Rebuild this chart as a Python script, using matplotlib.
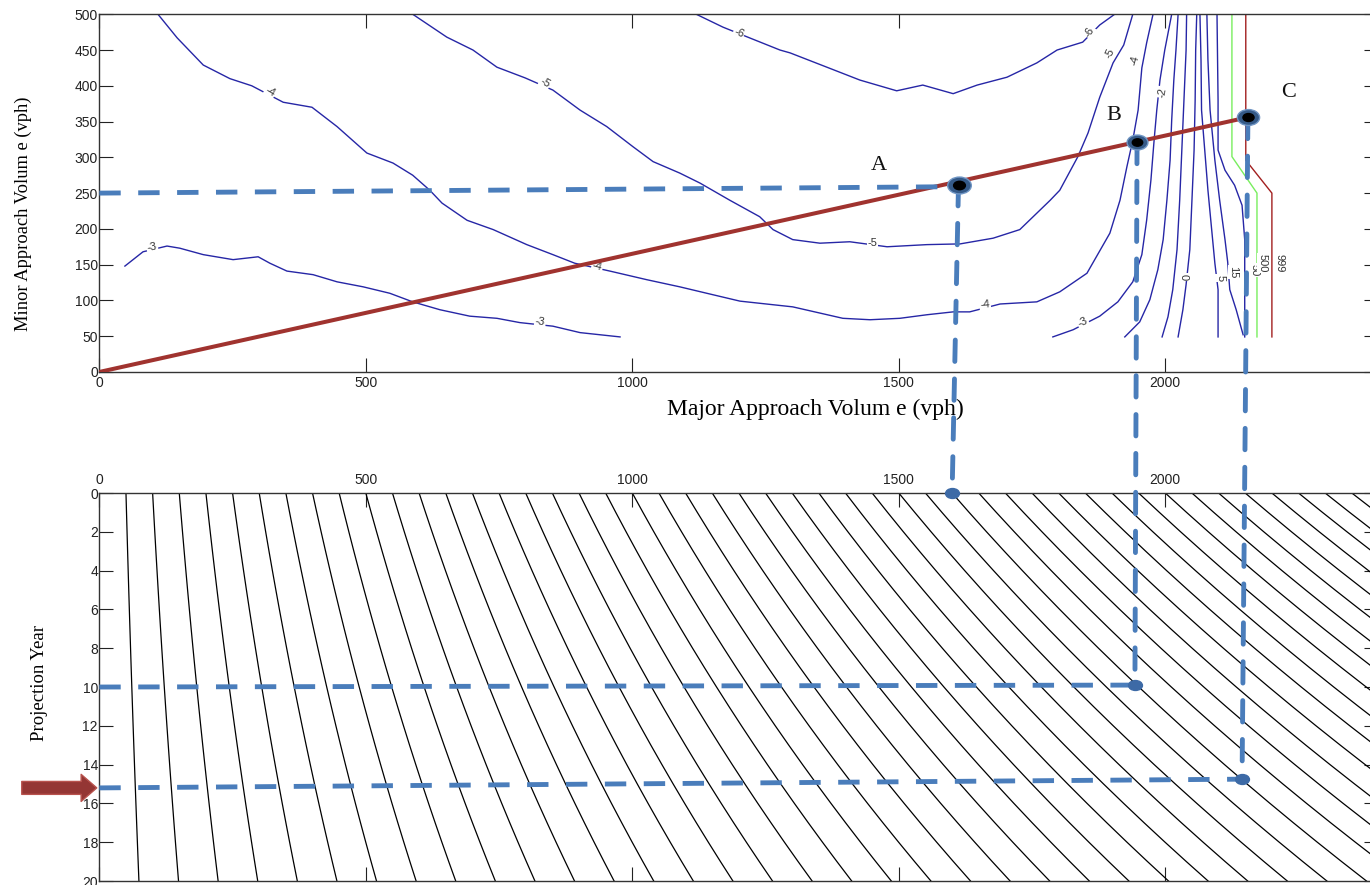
import numpy as np
import matplotlib
matplotlib.use('Agg')
import matplotlib.pyplot as plt
from matplotlib.patches import ConnectionPatch
from matplotlib.path import Path

plt.rcParams['font.family'] = ['Liberation Sans', 'DejaVu Sans']

# ---- contour lines of the upper panel (major vph, minor vph) ----
neg6_x = [1120, 1170, 1220, 1277, 1296, 1365, 1427, 1496, 1545, 1602, 1647, 1703, 1759, 1797, 1845, 1877, 1905]
neg6_y = [500, 482, 467, 450, 446, 426, 408, 393, 401, 389, 401, 412, 432, 450, 461, 485, 500]

neg5_x = [588, 652, 701, 746, 799, 851, 902, 952, 1001, 1039, 1089, 1127, 1183, 1239, 1264, 1301,
          1352, 1408, 1478, 1553, 1615, 1677, 1727, 1759, 1784, 1802, 1836, 1855, 1877, 1902, 1922, 1939]
neg5_y = [500, 468, 450, 426, 411, 394, 366, 343, 315, 294, 278, 264, 240, 217, 199, 185,
          180, 182, 175, 178, 179, 187, 199, 222, 240, 254, 301, 334, 384, 432, 457, 500]

neg4_x = [110, 146, 195, 245, 286, 345, 399, 446, 502, 551, 588, 620, 643, 690, 739, 802, 851, 892,
          958, 1027, 1089, 1151, 1202, 1301, 1395, 1446, 1502, 1553, 1602, 1633, 1690, 1759, 1802,
          1853, 1896, 1915, 1928, 1939, 1949, 1956, 1965, 1977]
neg4_y = [500, 467, 429, 410, 400, 377, 370, 343, 306, 292, 275, 254, 236, 212, 199, 178, 164, 152,
          141, 129, 119, 108, 99, 91, 75, 73, 75, 80, 84, 84, 95, 98, 112,
          138, 194, 240, 287, 324, 366, 425, 460, 500]

neg3a_x = [48, 82, 127, 151, 195, 251, 298, 320, 352, 401, 446, 495, 545, 588, 639, 695, 746, 789, 851, 902, 977]
neg3a_y = [148, 168, 176, 173, 164, 157, 161, 152, 141, 136, 126, 119, 110, 98, 87, 78, 75, 69, 64, 55, 49]

neg3b_x = [1789, 1827, 1877, 1911, 1939, 1956, 1965, 1973, 1979, 1984, 1990, 1999, 2012]
neg3b_y = [49, 59, 78, 98, 126, 164, 212, 268, 324, 366, 408, 450, 500]

neg2_x = [1924, 1952, 1971, 1986, 1996, 2003, 2009, 2012, 2016, 2020, 2024]
neg2_y = [49, 70, 101, 143, 185, 240, 296, 352, 408, 450, 500]

neg1_x = [1994, 2005, 2014, 2022, 2027, 2031, 2035, 2039, 2040]
neg1_y = [49, 77, 115, 171, 240, 310, 380, 450, 500]

zero_x = [2024, 2033, 2039, 2046, 2050, 2054, 2056, 2057, 2059]
zero_y = [49, 87, 122, 171, 240, 310, 380, 450, 500]

pos5_x = [2099, 2099, 2093, 2087, 2080, 2074, 2068, 2067, 2065]
pos5_y = [49, 115, 152, 199, 254, 310, 366, 436, 500]

pos15_x = [2146, 2133, 2121, 2117, 2112, 2102, 2093, 2084, 2080, 2078]
pos15_y = [52, 87, 115, 154, 185, 240, 296, 366, 436, 500]

pos30_x = [2149, 2149, 2144, 2130, 2112, 2099, 2099, 2097]
pos30_y = [49, 185, 233, 261, 282, 310, 380, 500]

pos50_x = [2172, 2172, 2125, 2125]
pos50_y = [49, 250, 301, 500]

pos999_x = [2200, 2200, 2151, 2151]
pos999_y = [49, 250, 296, 500]

# contour labels
label_text = ['-6', '-5', '-4', '-3', '-4', '-5', '-3', '-4', '-6', '-5', '-4', '-3', '-2',
              '0', '5', '15', '50', '500', '999']
label_x = [1200, 836, 320, 99, 934, 1451, 827, 1662, 1858, 1896, 1943, 1845, 1994,
           2035, 2103, 2128, 2168, 2183, 2215]
label_y = [474, 404, 391, 175, 147, 180, 70, 94, 475, 446, 436, 70, 391,
           133, 131, 140, 143, 152, 152]
label_rot = [-22, -30, -30, 10, -15, 0, -8, 5, 60, 65, 75, 25, 80, -90, -90, -90, -90, -90, -90]

# trend line and points A, B, C
trend_major = [0, 2155]
trend_minor = [0, 356]
point_names = ['A', 'B', 'C']
point_major = [1612, 1947, 2155]
point_minor = [262, 321, 356]
minor_read = 250

# lower panel: traffic growth curves
base_volume = np.arange(50, 2400, 50)
growth_rate = 0.02
years = np.arange(0, 21)
dot_volume = [1600, 1943, 2144]
dot_year = [0, 9.9, 14.75]
year_read = [10.0, 15.2]

# ---- styling ----
blue = '#2626a6'
dash_blue = '#4a7dbb'
trend_red = '#a0332f'
dash_style = (0, (4.4, 3.6))
serif = ['Liberation Serif', 'DejaVu Serif']

fig = plt.figure(figsize=(13.7, 8.85), dpi=100)
ax1 = fig.add_axes([0.0725, 0.5797, 0.9337, 0.4042])
ax2 = fig.add_axes([0.0725, 0.0045, 0.9337, 0.4384])
ax1.set_zorder(2)
ax2.set_zorder(1)

# upper panel contours
contour_lines = [
    (neg6_x, neg6_y, blue), (neg5_x, neg5_y, blue), (neg4_x, neg4_y, blue),
    (neg3a_x, neg3a_y, blue), (neg3b_x, neg3b_y, blue), (neg2_x, neg2_y, blue),
    (neg1_x, neg1_y, blue), (zero_x, zero_y, blue), (pos5_x, pos5_y, blue),
    (pos15_x, pos15_y, blue), (pos30_x, pos30_y, blue),
    (pos50_x, pos50_y, '#78ee5e'), (pos999_x, pos999_y, '#a21f1f'),
]
for xs, ys, c in contour_lines:
    ax1.plot(xs, ys, color=c, lw=1.0, zorder=2)

for s, x, y, r in zip(label_text, label_x, label_y, label_rot):
    ax1.text(x, y, s, rotation=r, ha='center', va='center', fontsize=8, color='#333333',
             zorder=2.5, bbox=dict(fc='white', ec='none', pad=0.6))

ax1.plot(trend_major, trend_minor, color=trend_red, lw=2.9, solid_capstyle='butt', zorder=3)

# dashed reading line to the minor axis
ax1.plot([0, point_major[0]], [minor_read, point_minor[0] - 3], color=dash_blue, lw=3.5,
         linestyle=dash_style, zorder=4, clip_on=False)

# elliptical marker like the picture
circ = Path.unit_circle()
ell = Path(circ.vertices * np.array([1.4, 1.0]), circ.codes)

outer_sizes = [17, 15, 16]
for i in range(3):
    con = ConnectionPatch(xyA=(point_major[i], point_minor[i]), coordsA=ax1.transData,
                          xyB=(dot_volume[i], dot_year[i]), coordsB=ax2.transData,
                          color=dash_blue, lw=3.5, linestyle=dash_style, zorder=4, clip_on=False)
    ax1.add_artist(con)
    ax1.plot(point_major[i], point_minor[i], marker=ell, ms=outer_sizes[i], color='#355a88',
             mec='#6f95c4', mew=1.0, zorder=6, clip_on=False)
    ax1.plot(point_major[i], point_minor[i], marker=ell, ms=outer_sizes[i] * 0.5, color='black',
             zorder=7, clip_on=False)

label_offsets = [(-57, 14), (-17, 19), (29, 18)]
for name, x, y, off in zip(point_names, point_major, point_minor, label_offsets):
    ax1.annotate(name, xy=(x, y), xytext=off, textcoords='offset points', ha='center',
                 va='center', fontsize=16, family=serif, color='#111111', zorder=8)

# dots on the projection year panel (drawn in ax1 so they sit on top of the dashes)
ax1.plot(dot_volume, dot_year, linestyle='none', marker=ell, ms=10, color='#3d6aa6',
         transform=ax2.transData, clip_on=False, zorder=7)

ax1.set_xlim(0, 2400)
ax1.set_ylim(0, 500)
ax1.set_xticks([0, 500, 1000, 1500, 2000])
ax1.set_yticks(np.arange(0, 501, 50))
ax1.tick_params(direction='in', length=10, width=0.8, top=True, right=True,
                labelsize=10, colors='#222222')
ax1.tick_params(axis='y', pad=1)
ax1.tick_params(axis='x', pad=3)
ax1.set_ylabel('Minor Approach Volum e (vph)', fontsize=13.3, family=serif, va='center')
ax1.yaxis.set_label_coords(-0.0596, 0.4417)
ax1.set_xlabel('Major Approach Volum e (vph)', fontsize=17, family=serif, va='center')
ax1.xaxis.set_label_coords(0.5595, -0.106)

# lower panel growth curves
for v0 in base_volume:
    ax2.plot(v0 * (1 + growth_rate) ** years, years, color='black', lw=0.9, zorder=2)

ax2.plot([0, dot_volume[1]], [year_read[0], dot_year[1]], color=dash_blue, lw=3.5,
         linestyle=dash_style, zorder=4, clip_on=False)
ax2.plot([0, dot_volume[2]], [year_read[1], dot_year[2]], color=dash_blue, lw=3.5,
         linestyle=dash_style, zorder=4, clip_on=False)

ax2.annotate('', xy=(-0.002, year_read[1]), xycoords=('axes fraction', 'data'),
             xytext=(-54, 0), textcoords='offset points', annotation_clip=False,
             arrowprops=dict(arrowstyle='simple,head_length=0.75,head_width=1.3,tail_width=0.62',
                             mutation_scale=15, fc='#943634', ec='#b8524d', lw=1,
                             shrinkA=0, shrinkB=0))

ax2.set_xlim(0, 2400)
ax2.set_ylim(20, 0)
ax2.set_xticks([0, 500, 1000, 1500, 2000])
ax2.set_yticks(np.arange(0, 21, 2))
ax2.xaxis.tick_top()
ax2.tick_params(direction='in', length=10, width=0.8, top=True, bottom=True, right=True,
                labeltop=True, labelbottom=False, labelsize=10, colors='#222222')
ax2.tick_params(axis='y', pad=1)
ax2.tick_params(axis='x', pad=4)
ax2.set_ylabel('Projection Year', fontsize=13.5, family=serif, va='center')
ax2.yaxis.set_label_coords(-0.0464, 0.51)

for ax in (ax1, ax2):
    for sp in ax.spines.values():
        sp.set_linewidth(1.0)
        sp.set_color('#333333')

fig.savefig('out.png', dpi=100)
